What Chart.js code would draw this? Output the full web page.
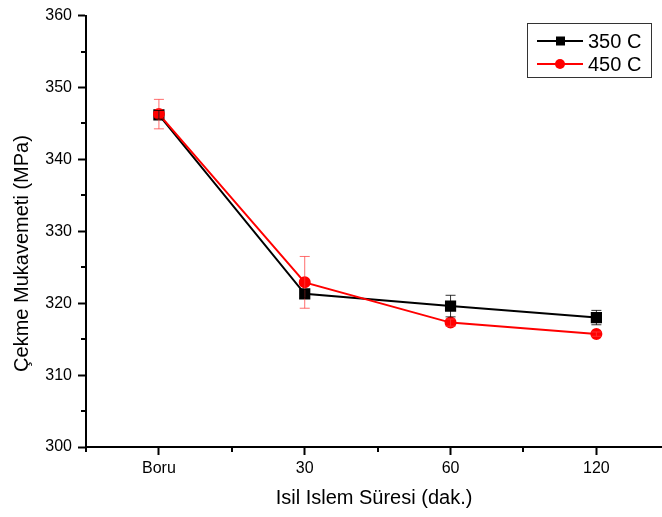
<!DOCTYPE html>
<html>
<head>
<meta charset="utf-8">
<script src="https://cdn.jsdelivr.net/npm/chart.js@4.4.0/dist/chart.umd.min.js"></script>
<style>
  body { margin: 0; background: #fff; }
  #wrap { width: 662px; height: 517px; }
</style>
</head>
<body>
<div id="wrap"><canvas id="myChart" width="662" height="517"></canvas></div>
<script>
const categories = ['Boru', '30', '60', '120'];
const values350 = [346.2, 321.3, 319.6, 318.0];
const values450 = [346.3, 322.9, 317.3, 315.7];
const err350 = [0.6, 0.6, 1.5, 1.0];
const err450 = [2.05, 3.6, 0.5, 0.3];
const yMin = 300;
const yMax = 360;

const FONT = '"Liberation Sans", Arial, sans-serif';

const toPoints = function (values) {
  return values.map(function (v, i) { return { x: i, y: v }; });
};

// error bars, drawn through the scales
const errorBars = {
  id: 'errorBars',
  afterDatasetsDraw: function (chart) {
    const ctx = chart.ctx;
    const xs = chart.scales.x;
    const ys = chart.scales.y;
    chart.data.datasets.forEach(function (ds) {
      ctx.save();
      ctx.strokeStyle = ds.errColor;
      ctx.lineWidth = 1;
      ds.data.forEach(function (p, i) {
        const e = ds.errors[i];
        const px = xs.getPixelForValue(p.x);
        const top = ys.getPixelForValue(p.y + e);
        const bot = ys.getPixelForValue(p.y - e);
        ctx.beginPath();
        ctx.moveTo(px, top); ctx.lineTo(px, bot);
        ctx.moveTo(px - 5, top); ctx.lineTo(px + 5, top);
        ctx.moveTo(px - 5, bot); ctx.lineTo(px + 5, bot);
        ctx.stroke();
      });
      ctx.restore();
    });
  }
};

// short minor ticks
const minorTicks = {
  id: 'minorTicks',
  afterDraw: function (chart) {
    const ctx = chart.ctx;
    const xs = chart.scales.x;
    const ys = chart.scales.y;
    const area = chart.chartArea;
    ctx.save();
    ctx.strokeStyle = '#000';
    ctx.lineWidth = 2;
    ctx.beginPath();
    for (let t of ys.ticks) {
      if (t.value % 10 !== 0) {
        const py = Math.round(ys.getPixelForValue(t.value));
        ctx.moveTo(area.left, py); ctx.lineTo(area.left - 5, py);
      }
    }
    for (let t of xs.ticks) {
      if (!Number.isInteger(t.value)) {
        const px = Math.round(xs.getPixelForValue(t.value));
        ctx.moveTo(px, area.bottom); ctx.lineTo(px, area.bottom + 5);
      }
    }
    ctx.stroke();
    ctx.restore();
  }
};

// legend box with line + marker
const lineLegend = {
  id: 'lineLegend',
  afterDraw: function (chart) {
    const ctx = chart.ctx;
    ctx.save();
    ctx.strokeStyle = '#333';
    ctx.lineWidth = 1;
    ctx.strokeRect(527.5, 23.5, 124, 54);
    const rows = [chart.data.datasets[1], chart.data.datasets[0]];
    rows.forEach(function (ds, i) {
      const y = 41 + i * 23;
      ctx.strokeStyle = ds.borderColor;
      ctx.fillStyle = ds.borderColor;
      ctx.lineWidth = 2;
      ctx.beginPath();
      ctx.moveTo(537, y); ctx.lineTo(583, y);
      ctx.stroke();
      if (ds.pointStyle === 'rect') {
        ctx.fillRect(556, y - 4.5, 9, 9);
      } else {
        ctx.beginPath();
        ctx.arc(560, y, 5, 0, Math.PI * 2);
        ctx.fill();
      }
      ctx.fillStyle = '#000';
      ctx.font = '20px ' + FONT;
      ctx.textBaseline = 'middle';
      ctx.fillText(ds.label, 588, y + 1);
    });
    ctx.restore();
  }
};

const ctx = document.getElementById('myChart').getContext('2d');
const myChart = new Chart(ctx, {
  type: 'line',
  data: {
    datasets: [
      {
        label: '450 C',
        data: toPoints(values450),
        errors: err450,
        errColor: 'rgba(255, 60, 60, 0.75)',
        borderColor: '#ff0000',
        backgroundColor: '#ff0000',
        borderWidth: 2,
        pointStyle: 'circle',
        pointRadius: 5,
        order: 0
      },
      {
        label: '350 C',
        data: toPoints(values350),
        errors: err350,
        errColor: 'rgba(0, 0, 0, 0.8)',
        borderColor: '#000000',
        backgroundColor: '#000000',
        borderWidth: 2,
        pointStyle: 'rect',
        pointRadius: 6.5,
        order: 1
      }
    ]
  },
  options: {
    responsive: false,
    animation: false,
    layout: { autoPadding: false, padding: { top: 13, right: 0, left: 0, bottom: 0 } },
    plugins: {
      legend: { display: false },
      tooltip: { enabled: false }
    },
    scales: {
      x: {
        type: 'linear',
        min: -0.5,
        max: 3.45,
        afterBuildTicks: function (scale) {
          scale.ticks = scale.ticks.filter(function (t) { return Number.isInteger(t.value * 2); });
        },
        afterFit: function (scale) { scale.height = 70; },
        ticks: {
          stepSize: 0.5,
          autoSkip: false,
          maxRotation: 0,
          padding: 4,
          color: '#000',
          font: { family: FONT, size: 16 },
          callback: function (v) {
            return Number.isInteger(v) ? categories[v] : '';
          }
        },
        grid: {
          drawOnChartArea: false,
          tickLength: 8,
          tickWidth: 2,
          tickColor: function (c) {
            return c.tick && Number.isInteger(c.tick.value) ? '#000' : 'rgba(0,0,0,0)';
          }
        },
        border: { color: '#000', width: 2 },
        title: {
          display: true,
          text: 'Isil Islem Süresi (dak.)',
          color: '#000',
          font: { family: FONT, size: 20 },
          padding: { top: 0, bottom: 7 }
        }
      },
      y: {
        min: yMin,
        max: yMax,
        afterFit: function (scale) { scale.width = 86; },
        ticks: {
          stepSize: 5,
          autoSkip: false,
          padding: 6,
          color: '#000',
          font: { family: FONT, size: 16 },
          callback: function (v) { return v % 10 === 0 ? v : ''; }
        },
        grid: {
          drawOnChartArea: false,
          tickLength: 8,
          tickWidth: 2,
          tickColor: function (c) {
            return c.tick && c.tick.value % 10 === 0 ? '#000' : 'rgba(0,0,0,0)';
          }
        },
        border: { color: '#000', width: 2 },
        title: {
          display: true,
          // trailing spaces shift the label down as in the original
          text: 'Çekme Mukavemeti (MPa)' + '\u00a0'.repeat(8),
          color: '#000',
          font: { family: FONT, size: 20 },
          padding: { top: 10, bottom: 0 }
        }
      }
    }
  },
  plugins: [errorBars, minorTicks, lineLegend]
});
</script>
</body>
</html>
